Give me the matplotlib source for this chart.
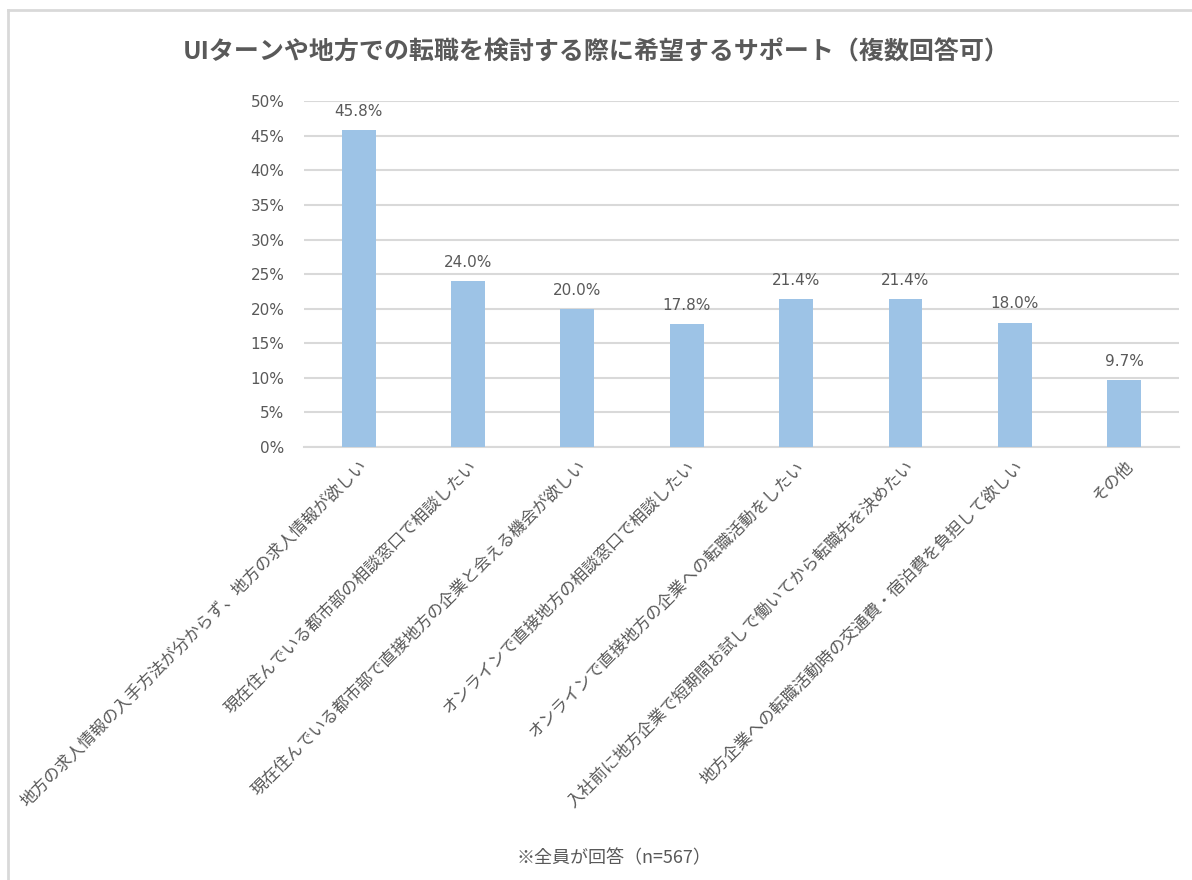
import matplotlib
matplotlib.use('Agg')
import matplotlib.pyplot as plt
from matplotlib.lines import Line2D
from matplotlib.ticker import FuncFormatter

plt.rcParams['font.family'] = ['Noto Sans CJK JP', 'DejaVu Sans']

# Data
categories = [
    '地方の求人情報の入手方法が分からず、地方の求人情報が欲しい',
    '現在住んでいる都市部の相談窓口で相談したい',
    '現在住んでいる都市部で直接地方の企業と会える機会が欲しい',
    'オンラインで直接地方の相談窓口で相談したい',
    'オンラインで直接地方の企業への転職活動をしたい',
    '入社前に地方企業で短期間お試しで働いてから転職先を決めたい',
    '地方企業への転職活動時の交通費・宿泊費を負担して欲しい',
    'その他',
]
values = [45.8, 24.0, 20.0, 17.8, 21.4, 21.4, 18.0, 9.7]
title = 'UIターンや地方での転職を検討する際に希望するサポート（複数回答可）'
note = '※全員が回答（n=567）'

txt = '#595959'
grid = '#d9d9d9'

fig = plt.figure(figsize=(11.92, 8.8), dpi=100)
ax = fig.add_axes([0.255, 0.492, 0.734, 0.393])

x = range(len(values))
ax.bar(x, values, width=0.31, color='#9dc3e6', zorder=3)
for i, v in zip(x, values):
    ax.text(i, v + 1.6, '%.1f%%' % v, ha='center', va='bottom', fontsize=11,
            color=txt, family='DejaVu Sans')

ax.set_xlim(-0.5, len(values) - 0.5)
ax.set_ylim(0, 50)
ax.set_yticks(range(0, 51, 5))
ax.yaxis.set_major_formatter(FuncFormatter(lambda v, p: '%d%%' % v))
ax.grid(axis='y', color=grid, linewidth=1.5, zorder=0)
for s in ['top', 'right', 'left']:
    ax.spines[s].set_visible(False)
ax.spines['bottom'].set_color(grid)
ax.spines['bottom'].set_linewidth(1.5)
ax.tick_params(axis='both', length=0, colors=txt)
ax.tick_params(axis='y', pad=14)
for t in ax.get_yticklabels():
    t.set_fontfamily('DejaVu Sans')
    t.set_fontsize(11)
ax.set_xticks(list(x))
ax.set_xticklabels(categories, rotation=45, ha='right', rotation_mode='anchor',
                   fontsize=12, color=txt)
ax.tick_params(axis='x', pad=8)

fig.text(0.5, 0.94, title, ha='center', va='center', fontsize=18,
         fontweight='bold', color=txt)
fig.text(0.515, 0.025, note, ha='center', va='center', fontsize=13, color=txt)

# outer frame (top and left edges visible)
fig.add_artist(Line2D([0.007, 1.0], [0.989, 0.989], color='#d9d9d9', linewidth=2,
                      transform=fig.transFigure))
fig.add_artist(Line2D([0.007, 0.007], [0.0, 0.989], color='#d9d9d9', linewidth=2,
                      transform=fig.transFigure))

fig.savefig('out.png', dpi=100)
